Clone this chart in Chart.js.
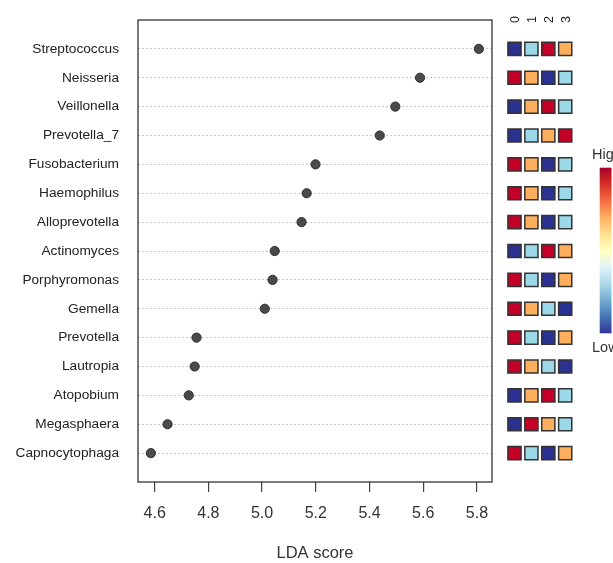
<!DOCTYPE html>
<html>
<head>
<meta charset="utf-8">
<script src="https://cdn.jsdelivr.net/npm/chart.js@4"></script>
<style>
    body { margin: 0; background: #fff; }
    #wrap { position: relative; width: 613px; height: 563px; overflow: hidden; }
    #wrap canvas { position: absolute; left: 0; top: 0; }
</style>
</head>
<body>
<div id="wrap">
    <canvas id="ldaChart" width="613" height="563"></canvas>
    <canvas id="heatChart" width="613" height="563"></canvas>
</div>
<script>
// taxa, top to bottom
const taxa = ['Streptococcus', 'Neisseria', 'Veillonella', 'Prevotella_7', 'Fusobacterium',
    'Haemophilus', 'Alloprevotella', 'Actinomyces', 'Porphyromonas', 'Gemella',
    'Prevotella', 'Lautropia', 'Atopobium', 'Megasphaera', 'Capnocytophaga'];

// LDA score per taxon
const ldaScores = [5.807, 5.588, 5.496, 5.438, 5.199, 5.166, 5.147, 5.047, 5.039, 5.010,
    4.756, 4.749, 4.727, 4.648, 4.586];

const xTicks = [4.6, 4.8, 5.0, 5.2, 5.4, 5.6, 5.8];

// heatmap columns (rank 1 = low ... 4 = high)
const groupLabels = ['0', '1', '2', '3'];
const group0 = [1, 4, 1, 1, 4, 4, 4, 1, 4, 4, 4, 4, 1, 1, 4];
const group1 = [2, 3, 3, 2, 3, 3, 3, 2, 2, 3, 2, 3, 3, 4, 2];
const group2 = [4, 1, 4, 3, 1, 1, 1, 4, 1, 2, 1, 2, 4, 3, 1];
const group3 = [3, 2, 2, 4, 2, 2, 2, 3, 3, 1, 3, 1, 2, 2, 3];
const groups = [group0, group1, group2, group3];

const rankColors = { 1: '#2b3190', 2: '#9bd9e8', 3: '#fdaf5e', 4: '#c40028' };
const rampColors = ['#313695', '#4575b4', '#74add1', '#abd9e9', '#e0f3f8', '#ffffbf',
    '#fee090', '#fdae61', '#f46d43', '#d73027', '#a50026'];

const FONT = "'Liberation Sans', Arial, sans-serif";

// draw the box round the plot
const boxPlugin = {
    id: 'box',
    afterDraw(chart) {
        const { ctx, chartArea: a } = chart;
        ctx.save();
        ctx.strokeStyle = '#333';
        ctx.lineWidth = 1.3;
        ctx.strokeRect(a.left, a.top, a.right - a.left, a.bottom - a.top);
        ctx.restore();
    }
};

new Chart(document.getElementById('ldaChart'), {
    type: 'scatter',
    data: {
        datasets: [{
            data: ldaScores.map((v, i) => ({ x: v, y: i })),
            pointRadius: 4.6,
            pointHoverRadius: 4.6,
            backgroundColor: '#4a4a4a',
            borderColor: '#2e2e2e',
            borderWidth: 1
        }]
    },
    options: {
        responsive: false,
        devicePixelRatio: 1,
        animation: false,
        layout: { padding: { left: 0, right: 121, top: 20, bottom: 0 } },
        plugins: { legend: { display: false }, tooltip: { enabled: false } },
        scales: {
            x: {
                type: 'linear',
                min: 4.538,
                max: 5.856,
                afterBuildTicks: s => { s.ticks = xTicks.map(v => ({ value: v })); },
                afterFit: s => { s.height = 81; s.paddingLeft = 0; s.paddingRight = 0; },
                grid: { drawOnChartArea: false, tickLength: 10, color: '#444', lineWidth: 1.2 },
                border: { display: false },
                ticks: {
                    padding: 12,
                    color: '#333',
                    font: { family: FONT, size: 16 },
                    callback: v => v.toFixed(1)
                },
                title: {
                    display: true,
                    text: 'LDA score',
                    color: '#333',
                    font: { family: FONT, size: 16.5 },
                    padding: { top: 0, bottom: 0 }
                }
            },
            y: {
                type: 'linear',
                reverse: true,
                min: -1,
                max: 15,
                afterBuildTicks: s => { s.ticks = taxa.map((t, i) => ({ value: i })); },
                afterFit: s => { s.width = 138; s.paddingTop = 0; s.paddingBottom = 0; },
                grid: { color: '#c8c8c8', lineWidth: 1, drawTicks: false },
                border: { display: false, dash: [2, 2] },
                ticks: {
                    padding: 19,
                    color: '#222',
                    font: { family: FONT, size: 13.7 },
                    callback: v => taxa[v]
                }
            }
        }
    },
    plugins: [boxPlugin]
});

// group labels over the heatmap and colour key on the right
const keyPlugin = {
    id: 'key',
    afterDraw(chart) {
        const ctx = chart.ctx;
        const xs = chart.scales.x;
        ctx.save();
        ctx.fillStyle = '#222';
        ctx.font = '12.5px ' + FONT;
        ctx.textAlign = 'left';
        ctx.textBaseline = 'middle';
        groupLabels.forEach((t, i) => {
            ctx.save();
            ctx.translate(xs.getPixelForValue(i) + 1, 23);
            ctx.rotate(-Math.PI / 2);
            ctx.fillText(t, 0, 0);
            ctx.restore();
        });

        const x0 = 599.7, x1 = 611.5, y0 = 167.7, y1 = 333.3;
        const g = ctx.createLinearGradient(0, y1, 0, y0);
        rampColors.forEach((c, i) => g.addColorStop(i / (rampColors.length - 1), c));
        ctx.fillStyle = g;
        ctx.fillRect(x0, y0, x1 - x0, y1 - y0);
        ctx.fillStyle = '#333';
        ctx.font = '14.5px ' + FONT;
        ctx.textBaseline = 'alphabetic';
        ctx.fillText('High', 592, 158.5);
        ctx.fillText('Low', 592, 351.5);
        ctx.restore();
    }
};

const cells = [];
groups.forEach((col, c) => {
    col.forEach((r, i) => cells.push({ x: c, y: i, r: r }));
});

new Chart(document.getElementById('heatChart'), {
    type: 'scatter',
    data: {
        datasets: [{
            data: cells,
            pointStyle: 'rect',
            pointRadius: 9.3,
            pointHoverRadius: 9.3,
            backgroundColor: cells.map(d => rankColors[d.r]),
            borderColor: '#333',
            borderWidth: 1.5
        }]
    },
    options: {
        responsive: false,
        devicePixelRatio: 1,
        animation: false,
        layout: { padding: { left: 497.6, right: 30.9, top: 20, bottom: 81 } },
        plugins: { legend: { display: false }, tooltip: { enabled: false } },
        scales: {
            x: { type: 'linear', min: -1, max: 4, display: false },
            y: { type: 'linear', reverse: true, min: -1, max: 15, display: false }
        }
    },
    plugins: [keyPlugin]
});
</script>
</body>
</html>
